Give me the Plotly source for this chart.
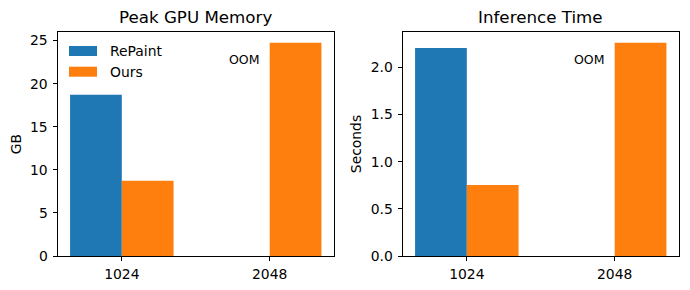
import plotly.graph_objects as go

resolutions = ["1024", "2048"]
x_pos = [0, 1]
memory_repaint = [18.72, None]
memory_ours = [8.72, 24.76]
time_repaint = [2.205, None]
time_ours = [0.754, 2.262]
series_names = ["RePaint", "Ours"]
colors = ["#1f77b4", "#ff7f0e"]
oom_label = "OOM"
bar_w = 0.35

FONT = "DejaVu Sans"
W, H = 690, 290
fig = go.Figure()

panels = [
    ("x", "y", memory_repaint, memory_ours),
    ("x2", "y2", time_repaint, time_ours),
]
for xa, ya, rep, ours in panels:
    fig.add_trace(go.Bar(x=x_pos, y=rep, width=bar_w, offset=-bar_w, name=series_names[0],
                         marker=dict(color=colors[0], line=dict(width=0)),
                         xaxis=xa, yaxis=ya, showlegend=False))
    fig.add_trace(go.Bar(x=x_pos, y=ours, width=bar_w, offset=0, name=series_names[1],
                         marker=dict(color=colors[1], line=dict(width=0)),
                         xaxis=xa, yaxis=ya, showlegend=False))
    top = max(v for v in ours if v is not None)
    fig.add_annotation(x=x_pos[1] - bar_w / 2, y=top * 0.92, text=oom_label, showarrow=False,
                       xref=xa, yref=ya, font=dict(family=FONT, size=12.5, color="black"),
                       xanchor="center", yanchor="middle")

mem_top = max(v for v in memory_ours + memory_repaint if v is not None) * 1.05
time_top = max(v for v in time_ours + time_repaint if v is not None) * 1.05

def px_x(p):
    return p / W

def px_y(p):
    return 1 - p / H

axis_common = dict(showline=True, linecolor="black", linewidth=1, mirror=True,
                   ticks="outside", ticklen=4, tickcolor="black", showgrid=False,
                   zeroline=False, automargin=False,
                   tickfont=dict(family=FONT, size=13.9, color="black"))

dx1 = [px_x(57.5), px_x(334)]
dx2 = [px_x(402.5), px_x(679)]
dy = [px_y(256), px_y(32)]

xr = [-bar_w - 0.085, 1 + bar_w + 0.085]

# manual legend (matplotlib-style wide patches)
shapes = []
legend_ann = []
for i, (name, col) in enumerate(zip(series_names, colors)):
    cy = 51 + i * 20.7
    shapes.append(dict(type="rect", xref="paper", yref="paper",
                       x0=px_x(69), x1=px_x(97), y0=px_y(cy + 5), y1=px_y(cy - 5),
                       fillcolor=col, line=dict(width=0)))
    legend_ann.append(dict(text=name, x=px_x(108), y=px_y(cy), xref="paper", yref="paper",
                           showarrow=False, xanchor="left", yanchor="middle",
                           font=dict(family=FONT, size=13.9, color="black")))

fig.update_layout(
    width=W, height=H, margin=dict(l=0, r=0, t=0, b=0),
    paper_bgcolor="white", plot_bgcolor="white",
    showlegend=False,
    xaxis=dict(domain=dx1, range=xr, tickvals=x_pos, ticktext=resolutions,
               ticklabelstandoff=1, **axis_common),
    xaxis2=dict(domain=dx2, range=xr, tickvals=x_pos, ticktext=resolutions, anchor="y2",
                ticklabelstandoff=1, **axis_common),
    yaxis=dict(domain=dy, range=[0, mem_top], tickvals=[0, 5, 10, 15, 20, 25],
               ticklabelstandoff=2,
               title=dict(text="GB", font=dict(family=FONT, size=13.9, color="black"), standoff=5),
               **axis_common),
    yaxis2=dict(domain=dy, range=[0, time_top], anchor="x2",
                tickvals=[0, 0.5, 1.0, 1.5, 2.0], ticktext=["0.0", "0.5", "1.0", "1.5", "2.0"],
                ticklabelstandoff=2,
                title=dict(text="Seconds", font=dict(family=FONT, size=13.9, color="black"), standoff=5),
                **axis_common),
    shapes=shapes,
    annotations=list(fig.layout.annotations) + legend_ann + [
        dict(text="Peak GPU Memory", x=sum(dx1) / 2, y=px_y(29), xref="paper", yref="paper",
             showarrow=False, xanchor="center", yanchor="bottom",
             font=dict(family=FONT, size=16.7, color="black")),
        dict(text="Inference Time", x=sum(dx2) / 2, y=px_y(29), xref="paper", yref="paper",
             showarrow=False, xanchor="center", yanchor="bottom",
             font=dict(family=FONT, size=16.7, color="black")),
    ],
)

fig.write_html("out.html", config={"displayModeBar": False},
               post_script="document.body.style.margin='0';")
